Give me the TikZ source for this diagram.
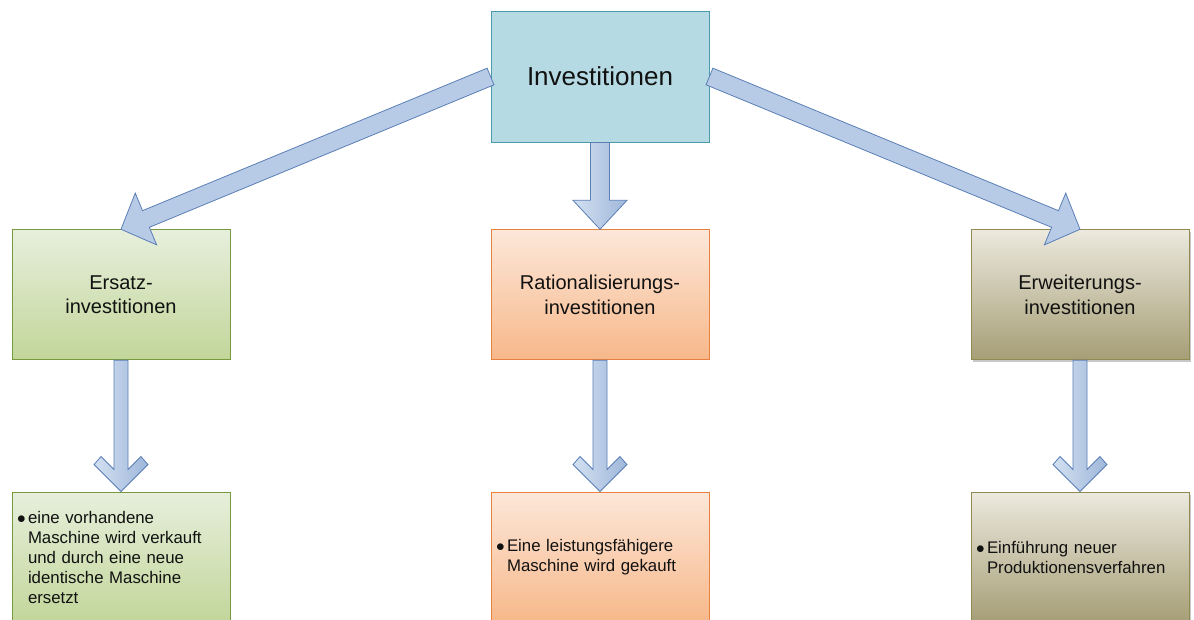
\documentclass[tikz,border=0pt]{standalone}
\usepackage{fontspec}
\setmainfont{Liberation Sans}
\usetikzlibrary{calc,shadows}
\definecolor{topfill}{HTML}{B5DAE3}
\definecolor{topdraw}{HTML}{4B9AA9}
\definecolor{gtop}{HTML}{E7EFDC}
\definecolor{gbot}{HTML}{C2D69A}
\definecolor{gdraw}{HTML}{789A3F}
\definecolor{otop}{HTML}{FCE7D9}
\definecolor{obot}{HTML}{F7B88A}
\definecolor{odraw}{HTML}{E8803E}
\definecolor{ttop}{HTML}{ECE9DE}
\definecolor{tbot}{HTML}{A69E76}
\definecolor{tdraw}{HTML}{938953}
\definecolor{aleft}{HTML}{D3E0F1}
\definecolor{aright}{HTML}{9FB7DA}
\definecolor{amid}{HTML}{B8CBE6}
\definecolor{adraw}{HTML}{5A7FB6}
\definecolor{txt}{HTML}{111111}
\newcommand\bulitem{\makebox[11pt][l]{$\bullet$}}
\newcommand\bulind{\hspace*{11pt}}
% flat block arrow: start, tip, shaft half width, head half width, head length, style
\newcommand\flatarrow[6]{%
  \coordinate (cs) at (#1);
  \coordinate (ct) at (#2);
  \coordinate (ch) at ($(ct)!#5!(cs)$);
  \path[#6] ($(cs)!#3!90:(ct)$) -- ($(ch)!#3!90:(ct)$) -- ($(ch)!#4!90:(ct)$)
    -- (ct) -- ($(ch)!#4!-90:(ct)$) -- ($(ch)!#3!-90:(ct)$) -- ($(cs)!#3!-90:(ct)$) -- cycle;
}
% chevron block arrow: start, tip
\newcommand\chevarrow[2]{%
  \coordinate (cs) at (#1);
  \coordinate (ct) at (#2);
  \coordinate (cj) at ($(ct)!22pt!(cs)$);
  \coordinate (cb) at ($(ct)!35pt!(cs)$);
  \coordinate (co) at ($(ct)!27pt!(cs)$);
  \path[blockarrow] ($(cs)!7pt!90:(ct)$) -- ($(cj)!7pt!90:(ct)$) -- ($(cb)!20pt!90:(ct)$)
    -- ($(co)!27pt!90:(ct)$) -- (ct) -- ($(co)!27pt!-90:(ct)$) -- ($(cb)!20pt!-90:(ct)$)
    -- ($(cj)!7pt!-90:(ct)$) -- ($(cs)!7pt!-90:(ct)$) -- cycle;
}
\begin{document}
\begin{tikzpicture}[x=1pt,y=1pt,
  box/.style={draw, line width=0.9pt, minimum width=218pt, minimum height=130pt, inner sep=0pt, text=txt},
  topbox/.style={box, fill=topfill, draw=topdraw, minimum height=131pt, font=\fontsize{26}{30}\selectfont},
  greenbox/.style={box, draw=gdraw, top color=gtop, bottom color=gbot},
  orangebox/.style={box, draw=odraw, top color=otop, bottom color=obot},
  tanbox/.style={box, draw=tdraw, top color=ttop, bottom color=tbot,
    drop shadow={shadow xshift=2pt, shadow yshift=-2.5pt, opacity=0.3, fill=black!70}},
  midlabel/.style={font=\fontsize{20}{24.5}\selectfont, align=center},
  bullettext/.style={font=\fontsize{16.8}{20}\selectfont, align=left, text width=208pt, inner xsep=5pt},
  blockarrow/.style={draw=adraw, line width=0.8pt, left color=aleft, right color=aright, line join=miter},
  diagarrow/.style={draw=adraw, line width=0.8pt, fill=amid, line join=miter}
]
\useasboundingbox[fill=white] (0,0) rectangle (1194,-620);

\node[topbox] (top) at (600,-76.5) {Investitionen};

\node[greenbox, midlabel] (ersatz) at (121,-294.75) {Ersatz-\\investitionen};
\node[orangebox, midlabel] (ratio) at (600,-294.75) {Rationalisierungs-\\investitionen};
\node[tanbox, midlabel] (erweit) at (1080,-294.75) {Erweiterungs-\\investitionen};

\node[greenbox, bullettext] (ersatzT) at (121,-557) {\bulitem eine vorhandene\\\bulind Maschine wird verkauft\\\bulind und durch eine neue\\\bulind identische Maschine\\\bulind ersetzt};
\node[orangebox, bullettext] (ratioT) at (600,-557) {\bulitem Eine leistungsfähigere\\\bulind Maschine wird gekauft};
\node[tanbox, bullettext] (erweitT) at (1080,-557) {\bulitem Einführung neuer\\\bulind Produktionensverfahren};

\flatarrow{top.west}{ersatz.north}{9pt}{28pt}{27pt}{diagarrow}
\flatarrow{top.east}{erweit.north}{9pt}{28pt}{27pt}{diagarrow}
\flatarrow{top.south}{ratio.north}{9.5pt}{27pt}{29pt}{blockarrow}

\chevarrow{ersatz.south}{ersatzT.north}
\chevarrow{ratio.south}{ratioT.north}
\chevarrow{erweit.south}{erweitT.north}
\end{tikzpicture}
\end{document}
